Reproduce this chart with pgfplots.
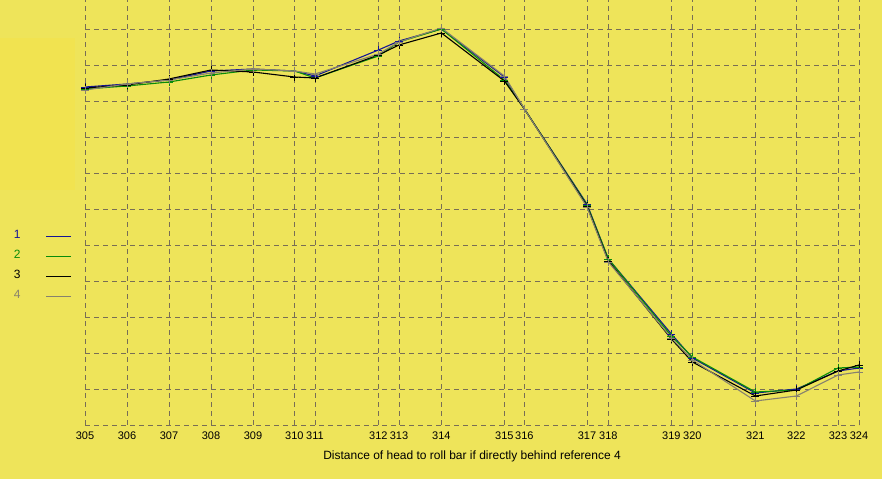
\documentclass[border=0pt]{standalone}
\usepackage{pgfplots}
\usepackage{pgfplotstable}
\pgfplotsset{compat=1.18}
\usepackage{fontspec}
\setmainfont{Liberation Sans}
\definecolor{bg}{RGB}{238,228,90}
\definecolor{panel}{RGB}{241,227,80}
\definecolor{gridc}{RGB}{120,110,85}
\definecolor{sA}{RGB}{20,20,150}
\definecolor{sB}{RGB}{10,140,10}
\definecolor{sC}{RGB}{0,0,0}
\definecolor{sD}{RGB}{135,130,110}
% x in pixel positions of the reference, values as pixel rows from the top
\pgfplotstableread{
x     a    b    c    d
85.3  87   89   88   90
127.3 84   86   85   84
169.3 80   82   79   80
211.3 71   75   70   73
253.3 69   70   72   69
294.7 71   71   77   71
315.3 76   78   78   74
378.7 50   56   55   54
399.3 41   42   45   42
441.7 29   29   33   28
504.7 77   80   81   76
524.7 109  109  109  109
587.3 204  205  206  207
608.7 259  259  261  262
671.7 334  336  339  338
692.7 358  357  362  360
755.7 393  392  396  401
796.7 389  390  390  396
838.3 371  368  371  375
859.3 368  367  365  372
}\data
\begin{document}
\begin{tikzpicture}[x=1bp,y=1bp]
\fill[bg] (0,0) rectangle (882,479);
\fill[panel] (0,289) rectangle (75,441);
\begin{axis}[
  at={(85bp,54bp)}, anchor=origin,
  scale only axis, width=774bp, height=425bp,
  xmin=85.3, xmax=859.3, ymin=0, ymax=425,
  axis line style={draw=none},
  major tick length=0pt,
  xtick={85.3,127.3,169.3,211.3,253.3,294.7,315.3,378.7,399.3,441.7,504.7,524.7,587.3,608.7,671.7,692.7,755.7,796.7,838.3,859.3},
  xticklabels={305,306,307,308,309,310,311,312,313,314,315,316,317,318,319,320,321,322,323,324},
  ytick={0,36,72,108,144,180,216,252,288,324,360,396},
  yticklabels={},
  xmajorgrids, ymajorgrids,
  x grid style={draw=gridc, line width=0.9bp, dash pattern=on 5bp off 4bp},
  y grid style={draw=gridc, line width=0.9bp, dash pattern=on 5bp off 4bp},
  tick label style={font=\fontsize{11bp}{13bp}\selectfont, /pgf/number format/assume math mode=true},
  xticklabel style={inner sep=0pt, yshift=-7bp},
  xlabel={Distance of head to roll bar if directly behind reference 4},
  every axis x label/.style={at={(axis description cs:0.5,0)}, anchor=north, yshift=-26bp, inner sep=0pt, font=\fontsize{12bp}{14bp}\selectfont},
  legend plot pos=right,
  legend style={draw=none, fill=none, at={(axis description cs:-0.096,0.462)}, anchor=north west,
    font=\fontsize{12bp}{14bp}\selectfont, row sep=12bp,
    nodes={inner sep=0pt, text height=8bp, text depth=0pt}},
  legend image code/.code={\draw[#1, mark=none, line width=1bp] (0bp,-2bp) -- (25bp,-2bp);},
  every axis plot/.append style={line width=1.1bp, mark=+, mark size=4bp, mark options={solid, line width=0.8bp}},
]
\addplot[sA] table[x=x, y expr=425-\thisrow{a}] {\data};
\addlegendentry{\makebox[32bp][l]{\textcolor{sA}{1}}}
\addplot[sB] table[x=x, y expr=425-\thisrow{b}] {\data};
\addlegendentry{\makebox[32bp][l]{\textcolor{sB}{2}}}
\addplot[sC] table[x=x, y expr=425-\thisrow{c}] {\data};
\addlegendentry{\makebox[32bp][l]{\textcolor{sC}{3}}}
\addplot[sD] table[x=x, y expr=425-\thisrow{d}] {\data};
\addlegendentry{\makebox[32bp][l]{\textcolor{sD}{4}}}
\end{axis}
\pgfresetboundingbox
\path (0,0) rectangle (882,479);
\end{tikzpicture}
\end{document}
